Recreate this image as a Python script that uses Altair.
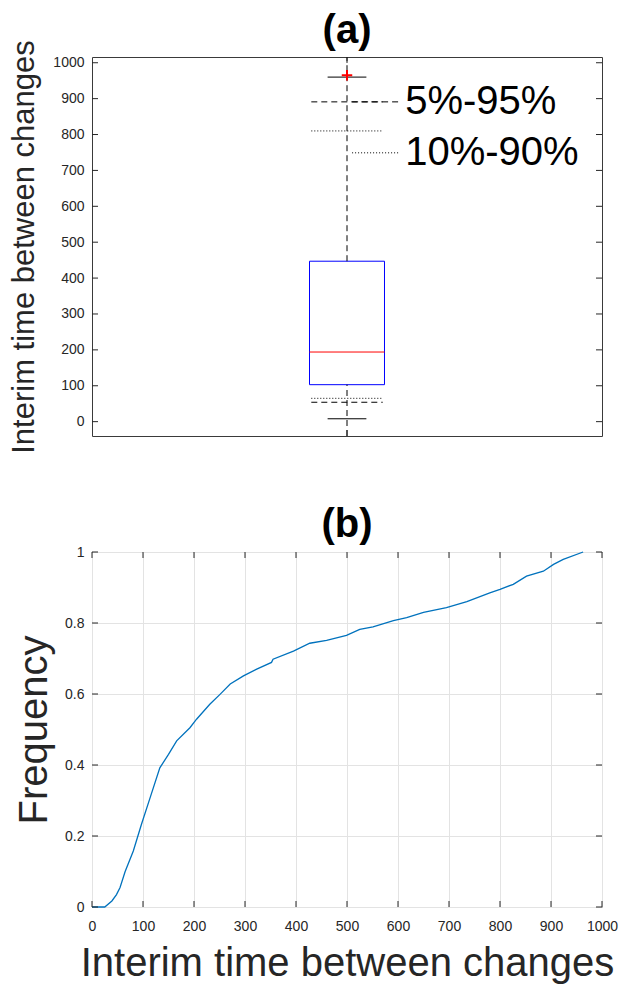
import altair as alt
import pandas as pd

# ---- box-plot summary of the interim times ----
box_center = 1
q1, median, q3 = 103, 194, 447
whisker_lo, whisker_hi = 8, 960
p5, p95 = 54, 891
p10, p90 = 65, 810
outliers = [965]
legend_labels = ["5%-95%", "10%-90%"]
legend_levels = [891, 749]

# ---- empirical CDF of the interim times ----
cdf_x = [0, 25, 39, 48, 55, 65, 81, 97, 114, 133, 150, 166, 192, 205, 231, 251,
         271, 297, 323, 352, 355, 395, 427, 460, 499, 525, 551, 591, 617, 650,
         695, 735, 780, 800, 826, 852, 885, 905, 924, 963]
cdf_y = [0, 0, 0.017, 0.035, 0.055, 0.10, 0.158, 0.233, 0.308, 0.392, 0.43,
         0.468, 0.505, 0.529, 0.571, 0.599, 0.628, 0.651, 0.67, 0.689, 0.698,
         0.721, 0.743, 0.751, 0.765, 0.782, 0.789, 0.807, 0.815, 0.830, 0.843,
         0.860, 0.885, 0.895, 0.909, 0.932, 0.946, 0.965, 0.979, 1.0]

# ---- axis settings ----
a_y_domain = [-40, 1016]
a_x_domain = [0.5, 1.5]
a_y_ticks = list(range(0, 1001, 100))
b_x_ticks = list(range(0, 1001, 100))
b_y_ticks = [0, 0.2, 0.4, 0.6, 0.8, 1.0]

W = 510
HA = 379
HB = 355
TICK = 6
FONT = "Liberation Sans"
INK = "#262626"

box_half = 0.0735
cap_half = 0.038
pct_half = 0.07
legend_from, legend_to, legend_text_x = 1.01, 1.104, 1.114

axis_a_y = alt.Axis(values=a_y_ticks, format="d",
                    title="Interim time between changes",
                    titleFontSize=31, titleFontWeight="normal", titleFont=FONT,
                    titleColor=INK, titlePadding=12,
                    labelFontSize=14, labelFont=FONT, labelColor=INK,
                    labelPadding=8, ticks=False, domain=False, grid=False)
axis_b_x = alt.Axis(values=b_x_ticks, format="d",
                    title="Interim time between changes",
                    titleFontSize=40, titleFontWeight="normal", titleFont=FONT,
                    titleColor=INK, titlePadding=10,
                    labelFontSize=14, labelFont=FONT, labelColor=INK,
                    labelPadding=12, ticks=False, domain=False, grid=True,
                    gridColor="#e3e3e3", gridWidth=1, labelFlush=False)
axis_b_y = alt.Axis(values=b_y_ticks, format="~g", title="Frequency",
                    titleFontSize=40, titleFontWeight="normal", titleFont=FONT,
                    titleColor=INK, titlePadding=10,
                    labelFontSize=14, labelFont=FONT, labelColor=INK,
                    labelPadding=8, ticks=False, domain=False, grid=True,
                    gridColor="#e3e3e3", gridWidth=1)


def ya(field):
    return alt.Y(field, type="quantitative",
                 scale=alt.Scale(domain=a_y_domain, nice=False, zero=False),
                 axis=axis_a_y)


def xa(field):
    return alt.X(field, type="quantitative",
                 scale=alt.Scale(domain=a_x_domain, nice=False, zero=False),
                 axis=None)


# ================= panel (a): box plot =================
box_df = pd.DataFrame({"xl": [box_center - box_half], "xr": [box_center + box_half],
                       "lo": [q1], "hi": [q3]})
box = alt.Chart(box_df).mark_rect(fill="transparent", stroke="#0000ff",
                                  strokeWidth=1).encode(
    x=xa("xl"), x2="xr", y=ya("lo"), y2="hi")

whisk_df = pd.DataFrame({"x": [box_center, box_center],
                         "y": [q3, a_y_domain[0]], "y2": [a_y_domain[1], q1]})
whiskers = alt.Chart(whisk_df).mark_rule(color="black", strokeDash=[6, 4],
                                         strokeWidth=1).encode(
    x=xa("x"), y=ya("y"), y2="y2")

med_df = pd.DataFrame({"xl": [box_center - box_half], "xr": [box_center + box_half],
                       "y": [median]})
med = alt.Chart(med_df).mark_rule(color="#ff0000", strokeWidth=1).encode(
    x=xa("xl"), x2="xr", y=ya("y"))

cap_df = pd.DataFrame({"xl": [box_center - cap_half] * 2,
                       "xr": [box_center + cap_half] * 2,
                       "y": [whisker_lo, whisker_hi]})
caps = alt.Chart(cap_df).mark_rule(color="black", strokeWidth=1).encode(
    x=xa("xl"), x2="xr", y=ya("y"))

dash_df = pd.DataFrame({"xl": [box_center - pct_half] * 2 + [legend_from],
                        "xr": [box_center + pct_half] * 2 + [legend_to],
                        "y": [p5, p95, legend_levels[0]]})
dashed = alt.Chart(dash_df).mark_rule(color="black", strokeDash=[6, 4],
                                      strokeWidth=1).encode(
    x=xa("xl"), x2="xr", y=ya("y"))

dot_df = pd.DataFrame({"xl": [box_center - pct_half] * 2 + [legend_from],
                       "xr": [box_center + pct_half] * 2 + [legend_to],
                       "y": [p10, p90, legend_levels[1]]})
dotted = alt.Chart(dot_df).mark_rule(color="black", strokeDash=[1, 2],
                                     strokeWidth=1).encode(
    x=xa("xl"), x2="xr", y=ya("y"))

lab_df = pd.DataFrame({"x": [legend_text_x] * 2, "y": legend_levels,
                       "t": legend_labels})
legend_text = alt.Chart(lab_df).mark_text(align="left", baseline="middle",
                                          fontSize=40, font=FONT,
                                          color="black").encode(
    x=xa("x"), y=ya("y"), text="t:N")

out_df = pd.DataFrame({"x": [box_center] * len(outliers), "y": outliers})
outlier = alt.Chart(out_df).mark_point(shape="M-1,0L1,0M0,-1L0,1", size=110,
                                       stroke="#ff0000", strokeWidth=2,
                                       filled=False, opacity=1).encode(
    x=xa("x"), y=ya("y"))

ay_df = pd.DataFrame({"v": a_y_ticks})
a_tick_l = alt.Chart(ay_df).mark_rule(color=INK).encode(
    y=ya("v"), x=alt.value(0), x2=alt.value(TICK))
a_tick_r = alt.Chart(ay_df).mark_rule(color=INK).encode(
    y=ya("v"), x=alt.value(W - TICK), x2=alt.value(W))
ax_df = pd.DataFrame({"v": [box_center]})
a_tick_b = alt.Chart(ax_df).mark_rule(color=INK).encode(
    x=xa("v"), y=alt.value(HA - TICK), y2=alt.value(HA))
a_tick_t = alt.Chart(ax_df).mark_rule(color=INK).encode(
    x=xa("v"), y=alt.value(0), y2=alt.value(TICK))

panel_a = alt.layer(
    box, whiskers, med, caps, dashed, dotted, legend_text, outlier,
    a_tick_l, a_tick_r, a_tick_b, a_tick_t,
).properties(
    width=W, height=HA,
    title=alt.TitleParams("(a)", fontSize=40, fontWeight="bold", font=FONT,
                          color="black", anchor="middle", offset=-11),
)

# ================= panel (b): cumulative frequency =================
cdf_df = pd.DataFrame({"t": cdf_x, "f": cdf_y})


def xb(field):
    return alt.X(field, type="quantitative",
                 scale=alt.Scale(domain=[0, 1000], nice=False, zero=False),
                 axis=axis_b_x)


def yb(field):
    return alt.Y(field, type="quantitative",
                 scale=alt.Scale(domain=[0, 1], nice=False, zero=False),
                 axis=axis_b_y)


line = alt.Chart(cdf_df).mark_line(color="#0072bd", strokeWidth=1.3,
                                   interpolate="linear").encode(
    x=xb("t"), y=yb("f"), order="t:Q")

by_df = pd.DataFrame({"v": b_y_ticks})
bx_df = pd.DataFrame({"v": b_x_ticks})
b_tick_l = alt.Chart(by_df).mark_rule(color=INK).encode(
    y=yb("v"), x=alt.value(0), x2=alt.value(TICK))
b_tick_r = alt.Chart(by_df).mark_rule(color=INK).encode(
    y=yb("v"), x=alt.value(W - TICK), x2=alt.value(W))
b_tick_b = alt.Chart(bx_df).mark_rule(color=INK).encode(
    x=xb("v"), y=alt.value(HB - TICK), y2=alt.value(HB))
b_tick_t = alt.Chart(bx_df).mark_rule(color=INK).encode(
    x=xb("v"), y=alt.value(0), y2=alt.value(TICK))

panel_b = alt.layer(
    line, b_tick_l, b_tick_r, b_tick_b, b_tick_t,
).properties(
    width=W, height=HB,
    title=alt.TitleParams("(b)", fontSize=40, fontWeight="bold", font=FONT,
                          color="black", anchor="middle", offset=0),
)

chart = alt.vconcat(panel_a, panel_b, spacing=50).properties(
    padding={"left": 8, "top": 10, "right": 0, "bottom": 0},
    background="white",
).configure_view(
    stroke="#3a3a3a", strokeWidth=1,
)

chart.save("out.html", embed_options={"renderer": "svg", "actions": False})
